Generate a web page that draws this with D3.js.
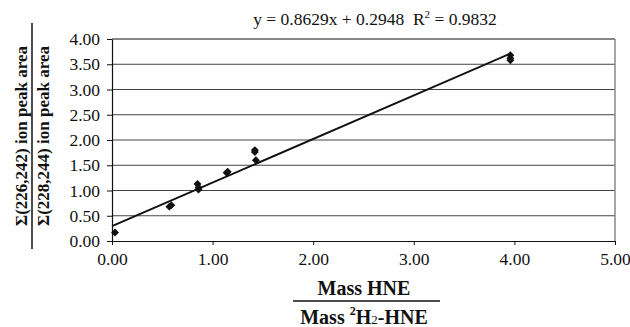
<!DOCTYPE html>
<html>
<head>
<meta charset="utf-8">
<script src="https://cdn.jsdelivr.net/npm/d3@7"></script>
<style>
  body { margin: 0; background: #fff; }
  text { font-family: "Liberation Serif", "Times New Roman", serif; fill: #111; }
</style>
</head>
<body>
<div id="chart"></div>
<script>
// data
const xValues = [0.03, 0.57, 0.59, 0.85, 0.86, 0.86, 1.14, 1.15, 1.42, 1.42, 1.43, 3.96, 3.96, 3.96];
const yValues = [0.17, 0.68, 0.71, 1.13, 1.06, 1.02, 1.35, 1.37, 1.80, 1.76, 1.60, 3.68, 3.62, 3.58];
const xTicks = [0, 1, 2, 3, 4, 5];
const yTicks = [0, 0.5, 1, 1.5, 2, 2.5, 3, 3.5, 4];
const fitSlope = 0.8629, fitIntercept = 0.2948;
const equationLabel = "y = 0.8629x + 0.2948\u00a0\u00a0R";
const r2Label = " = 0.9832";

const points = xValues.map((x, i) => ({ x: x, y: yValues[i] }));

const width = 630, height = 327;
const margin = { top: 39, right: 15, bottom: 86, left: 112 };
const innerW = width - margin.left - margin.right;
const innerH = height - margin.top - margin.bottom;

const svg = d3.select('#chart').append('svg')
  .attr('width', width).attr('height', height);
const g = svg.append('g').attr('transform', `translate(${margin.left},${margin.top})`);

const x = d3.scaleLinear().domain([0, 5]).range([0, innerW]);
const y = d3.scaleLinear().domain([0, 4]).range([innerH, 0]);

// horizontal gridlines
g.selectAll('.grid').data(yTicks.filter(d => d > 0)).enter().append('line')
  .attr('x1', 0).attr('x2', innerW)
  .attr('y1', d => y(d)).attr('y2', d => y(d))
  .attr('stroke', d => d === 4 ? '#111' : '#444').attr('stroke-width', 1);

// right border
g.append('line').attr('x1', innerW).attr('x2', innerW).attr('y1', 0).attr('y2', innerH)
  .attr('stroke', '#888').attr('stroke-width', 1.5);

// axes
const xAxis = d3.axisBottom(x).tickValues(xTicks).tickFormat(d3.format('.2f'))
  .tickSizeInner(4).tickSizeOuter(0).tickPadding(8);
const xg = g.append('g').attr('transform', `translate(0,${innerH})`).call(xAxis);
const yAxis = d3.axisLeft(y).tickValues(yTicks).tickFormat(d3.format('.2f'))
  .tickSizeInner(5).tickSizeOuter(0).tickPadding(7);
const yg = g.append('g').call(yAxis);
[xg, yg].forEach(a => {
  a.attr('font-family', null);
  a.select('.domain').attr('stroke', '#111').attr('stroke-width', 1.2);
  a.selectAll('.tick line').attr('stroke', '#111');
  a.selectAll('text').style('font-size', '17.5px').style('font-family', '"Liberation Serif", serif').attr('fill', '#111');
});

// trend line
const xMax = d3.max(xValues);
g.append('line')
  .attr('x1', x(0)).attr('y1', y(fitIntercept))
  .attr('x2', x(xMax)).attr('y2', y(fitSlope * xMax + fitIntercept))
  .attr('stroke', '#111').attr('stroke-width', 2);

// diamond markers
g.selectAll('.pt').data(points).enter().append('path')
  .attr('d', d3.symbol().type(d3.symbolDiamond2).size(40))
  .attr('transform', d => `translate(${x(d.x)},${y(d.y)})`)
  .attr('fill', '#111');

// equation
const eq = svg.append('text').attr('x', 375).attr('y', 25).attr('text-anchor', 'middle')
  .style('font-size', '17.5px');
eq.append('tspan').text(equationLabel);
eq.append('tspan').text('2').attr('dy', -7).style('font-size', '11px');
eq.append('tspan').text(r2Label).attr('dy', 7);

// y axis title (fraction)
const yt = svg.append('g').attr('transform', 'translate(32,136) rotate(-90)');
yt.append('text').attr('x', 0).attr('y', -5).attr('text-anchor', 'middle')
  .style('font-size', '17px').style('font-weight', 'bold').text('Σ(226,242) ion peak area');
yt.append('line').attr('x1', -113).attr('x2', 113).attr('y1', 0).attr('y2', 0)
  .attr('stroke', '#111').attr('stroke-width', 1.5);
yt.append('text').attr('x', 0).attr('y', 17).attr('text-anchor', 'middle')
  .style('font-size', '17px').style('font-weight', 'bold').text('Σ(228,244) ion peak area');

// x axis title (fraction)
svg.append('text').attr('x', 364).attr('y', 295).attr('text-anchor', 'middle')
  .style('font-size', '20px').style('font-weight', 'bold').text('Mass HNE');
svg.append('line').attr('x1', 293).attr('x2', 440).attr('y1', 301).attr('y2', 301)
  .attr('stroke', '#111').attr('stroke-width', 1.5);
const xt = svg.append('text').attr('x', 364).attr('y', 324).attr('text-anchor', 'middle')
  .style('font-size', '20px').style('font-weight', 'bold');
xt.append('tspan').text('Mass ');
xt.append('tspan').text('2').attr('dy', -9).style('font-size', '12px');
xt.append('tspan').text('H').attr('dy', 9);
xt.append('tspan').text('2').style('font-size', '13px').style('font-weight', 'normal');
xt.append('tspan').text('-HNE');
</script>
</body>
</html>
